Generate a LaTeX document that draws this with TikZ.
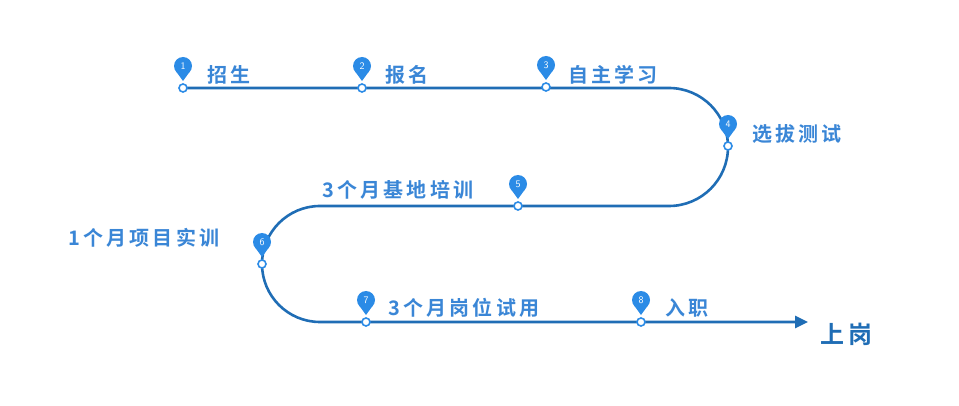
\documentclass[tikz,border=0pt]{standalone}
\usepackage{fontspec}
\newfontfamily\cjk[LetterSpace=16]{Noto Sans CJK SC Bold}
\usetikzlibrary{arrows.meta}
\definecolor{linec}{HTML}{1F6DB5}
\definecolor{pinc}{HTML}{2B8BE6}
\definecolor{txtc}{HTML}{3A86D6}
\tikzset{
  lbl/.style={font=\cjk\fontsize{20}{20}\selectfont, text=txtc, anchor=west, inner sep=0},
  ring/.style={circle, draw=pinc, fill=white, line width=1.6pt, minimum size=8pt, inner sep=0},
}
\newcommand{\pin}[3]{%
  \fill[pinc] (#1,#2-22) circle[radius=9];
  \fill[pinc] (#1-6.5,#2-16) -- (#1+6.5,#2-16) -- (#1,#2-7) -- cycle;
  \node[text=white,font=\sffamily\fontsize{10}{10}\selectfont,inner sep=0] at (#1,#2-22) {#3};
}
\begin{document}
\begin{tikzpicture}[x=1pt,y=-1pt]
\useasboundingbox (0,0) rectangle (959,406);
\coordinate (s) at (183,88);
\coordinate (e) at (808,322);
\draw[linec, line width=2.6pt, -{Triangle[length=13pt,width=12pt]}]
  (s) -- (669,88) arc[start angle=-90,end angle=90,radius=59] -- (320,206)
  arc[start angle=-90,end angle=-270,radius=58] -- (e);
\foreach \x/\y/\n in {183/88/1,362/88/2,546/87/3,728/146/4,518/206/5,262/264/6,366/322/7,641/322/8}{
  \pin{\x}{\y}{\n}
  \node[ring] (p\n) at (\x,\y) {};
}
\node[lbl] (l1) at (207,75) {招生};
\node[lbl] (l2) at (385,75) {报名};
\node[lbl] (l3) at (568,75) {自主学习};
\node[lbl] (l4) at (752,134) {选拔测试};
\node[lbl] (l5) at (322,190) {3个月基地培训};
\node[lbl] (l6) at (68,238) {1个月项目实训};
\node[lbl] (l7) at (388,308) {3个月岗位试用};
\node[lbl] (l8) at (665,308) {入职};
\node[lbl, text=linec, font=\cjk\fontsize{24}{24}\selectfont] (l9) at (820,334) {上岗};
\end{tikzpicture}
\end{document}
